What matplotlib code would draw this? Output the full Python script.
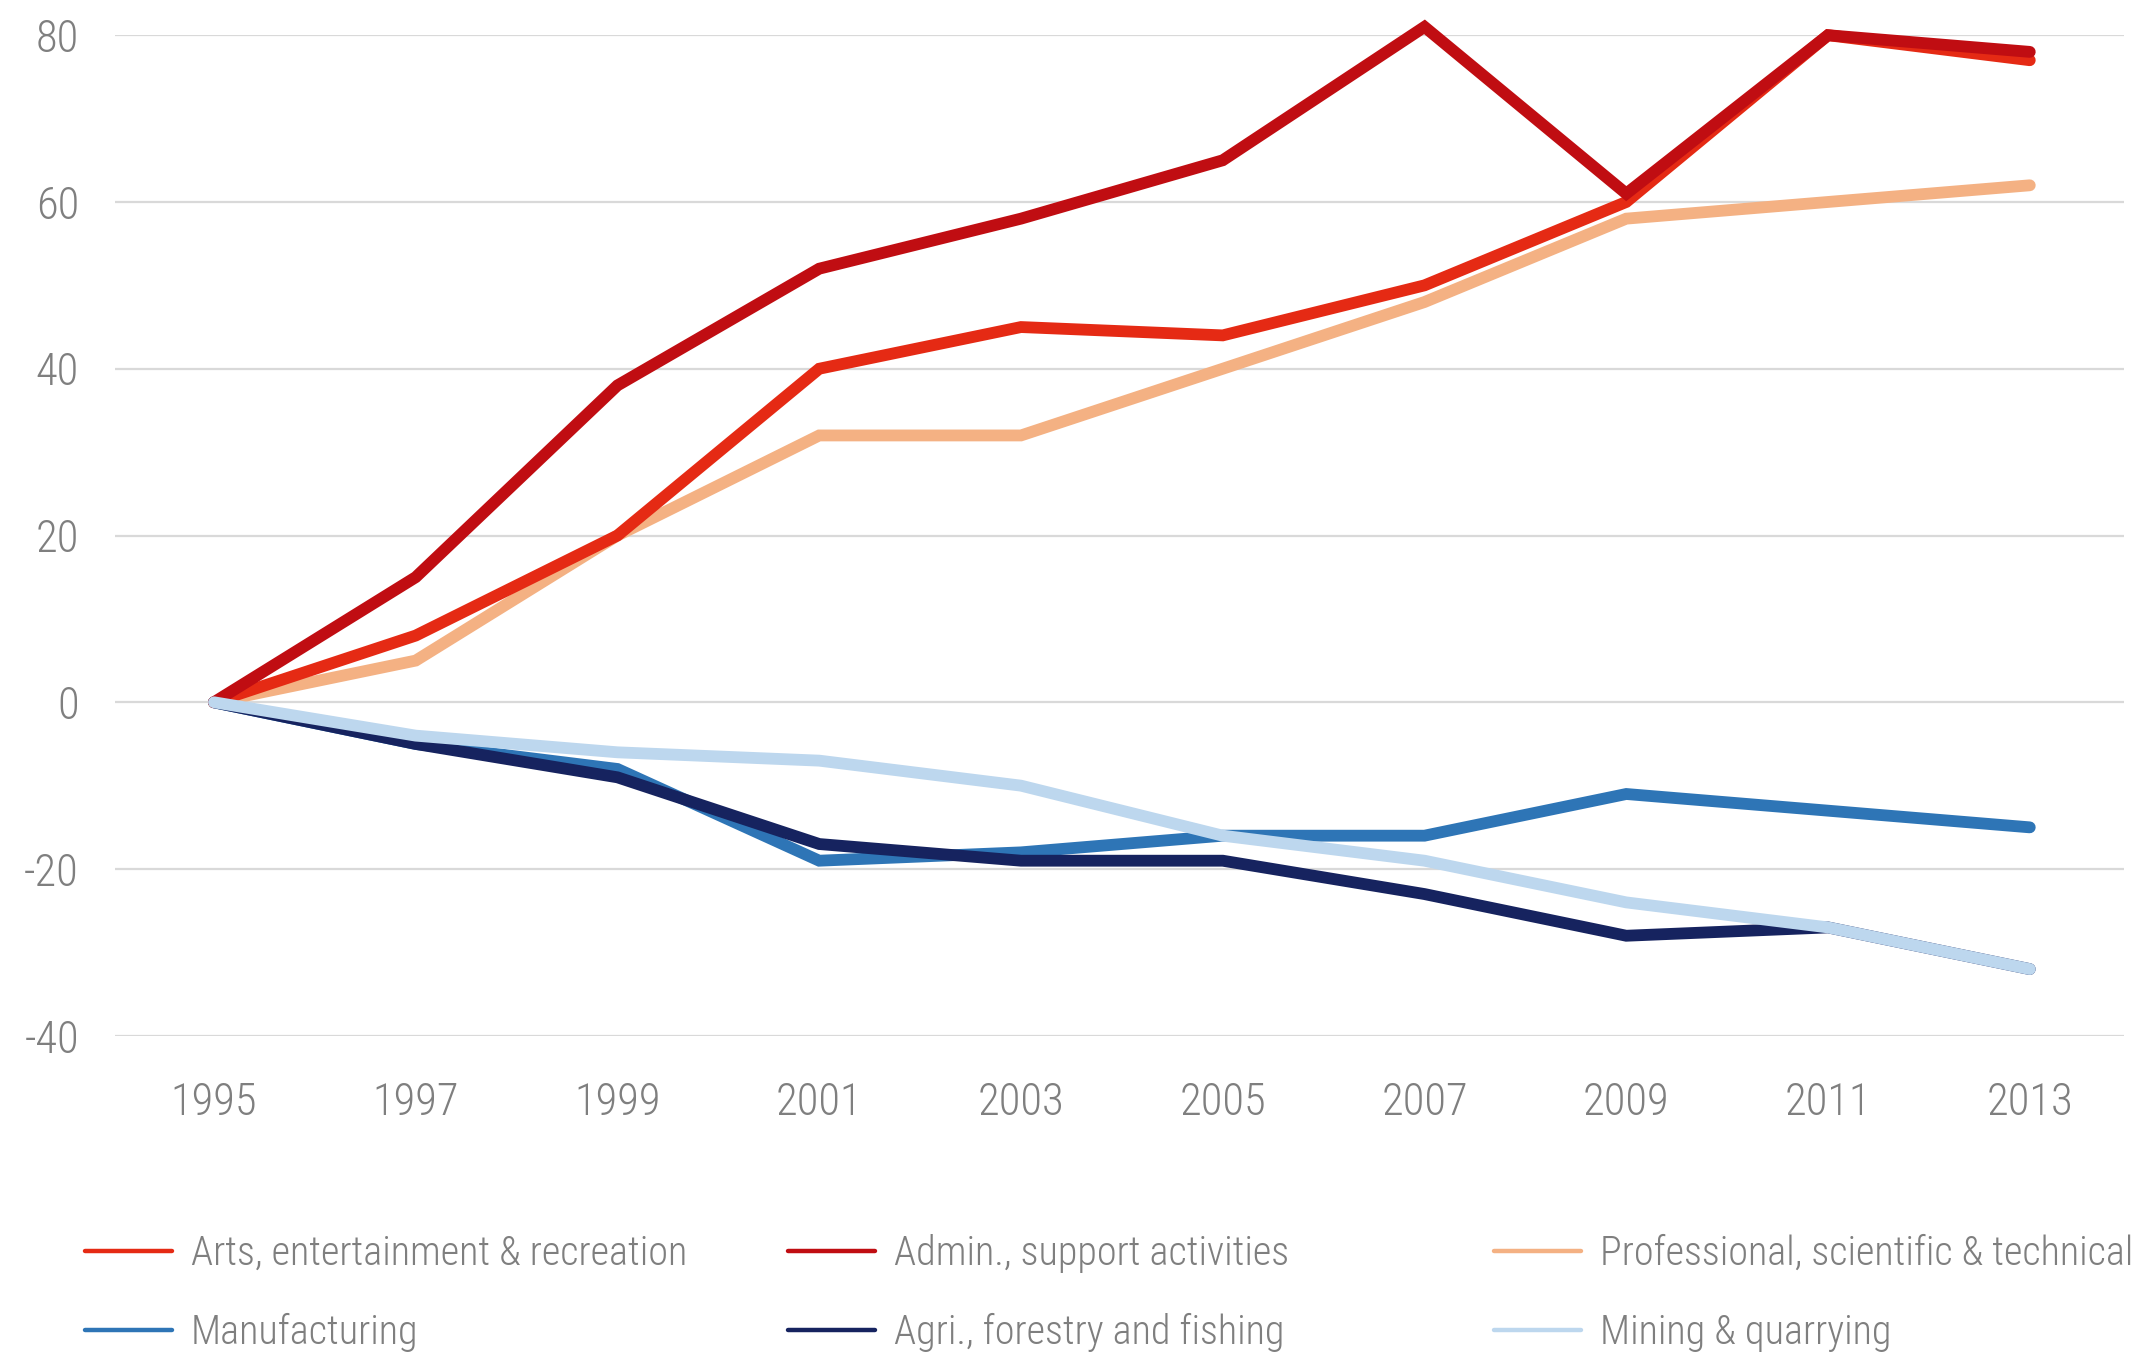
import matplotlib
matplotlib.use("Agg")
from matplotlib import pyplot as plt

years = [1995, 1997, 1999, 2001, 2003, 2005, 2007, 2009, 2011, 2013]

arts = [0, 8, 20, 40, 45, 44, 50, 60, 80, 77]
admin = [0, 15, 38, 52, 58, 65, 81, 61, 80, 78]
professional = [0, 5, 20, 32, 32, 40, 48, 58, 60, 62]
manufacturing = [0, -5, -8, -19, -18, -16, -16, -11, -13, -15]
agri = [0, -5, -9, -17, -19, -19, -23, -28, -27, -32]
mining = [0, -4, -6, -7, -10, -16, -19, -24, -27, -32]

yticks = [-40, -20, 0, 20, 40, 60, 80]

plt.rcParams['font.family'] = ['Roboto Condensed', 'DejaVu Sans']
plt.rcParams['font.weight'] = 300
plt.rcParams['axes.unicode_minus'] = False
grey = '#7f7f7f'
fs = 32
lfs = 29

fig = plt.figure(figsize=(21.39, 13.54), dpi=100)
ax = fig.add_axes([0.0538, 0.235, 0.939, 0.739])

lw = 8.5
kw = dict(linewidth=lw, solid_capstyle='round', solid_joinstyle='miter', clip_on=False)
l_prof, = ax.plot(years, professional, color='#f4b183', label='Professional, scientific & technical', zorder=3, **kw)
l_arts, = ax.plot(years, arts, color='#e52a14', label='Arts, entertainment & recreation', zorder=4, **kw)
l_admin, = ax.plot(years, admin, color='#c00d12', label='Admin., support activities', zorder=5, **kw)
l_manu, = ax.plot(years, manufacturing, color='#2e75b6', label='Manufacturing', zorder=3, **kw)
l_agri, = ax.plot(years, agri, color='#16235f', label='Agri., forestry and fishing', zorder=4, **kw)
l_mine, = ax.plot(years, mining, color='#bdd7ee', label='Mining & quarrying', zorder=6, **kw)

ax.set_xlim(1994.02, 2013.93)
ax.set_ylim(-40, 80)
ax.set_xticks(years)
ax.set_yticks(yticks)
ax.grid(axis='y', color='#d9d9d9', linewidth=1.6)
ax.set_axisbelow(True)
for s in ax.spines.values():
    s.set_visible(False)
ax.tick_params(axis='both', length=0, labelsize=fs, labelcolor=grey)
ax.tick_params(axis='y', pad=26)
ax.tick_params(axis='x', pad=33)

cols = [([l_arts, l_manu], 0.0397), ([l_admin, l_agri], 0.3684), ([l_prof, l_mine], 0.6985)]
for hs, x in cols:
    leg = fig.legend(handles=hs, loc='center left', bbox_to_anchor=(x, 0.045),
                     frameon=False, fontsize=lfs, handlelength=2.16, handletextpad=0.47,
                     labelspacing=1.0, borderpad=0, borderaxespad=0)
    for t in leg.get_texts():
        t.set_color(grey)
    for h in leg.legend_handles:
        h.set_linewidth(3.2)

fig.savefig('out.png', dpi=100)
